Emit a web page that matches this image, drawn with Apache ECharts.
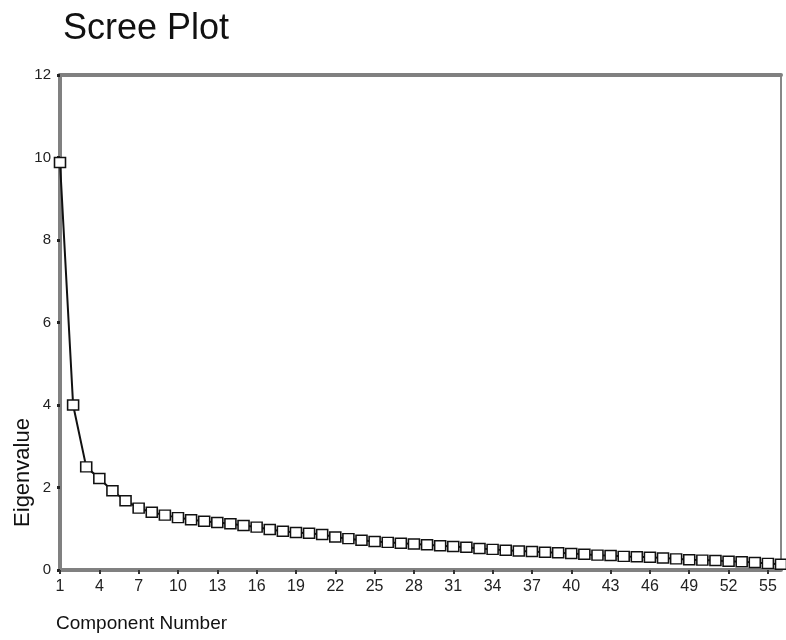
<!DOCTYPE html>
<html>
<head>
<meta charset="utf-8">
<script src="https://cdn.jsdelivr.net/npm/echarts@6/dist/echarts.min.js"></script>
<style>
  html, body { margin: 0; padding: 0; background: #fff; }
  #main { width: 786px; height: 640px; }
</style>
</head>
<body>
<div id="main"></div>
<script>
// 成分编号 1..56
var components = [];
for (var i = 1; i <= 56; i++) components.push(String(i));

// 特征值
var eigenvalues = [
  9.88, 4.00, 2.50, 2.22, 1.92, 1.68, 1.50, 1.40, 1.33, 1.27,
  1.22, 1.18, 1.15, 1.12, 1.08, 1.04, 0.98, 0.94, 0.91, 0.89,
  0.86, 0.80, 0.76, 0.72, 0.69, 0.67, 0.65, 0.63, 0.61, 0.59,
  0.57, 0.55, 0.52, 0.50, 0.48, 0.46, 0.45, 0.43, 0.42, 0.40,
  0.38, 0.36, 0.35, 0.33, 0.32, 0.31, 0.29, 0.27, 0.25, 0.24,
  0.23, 0.21, 0.20, 0.18, 0.16, 0.14
];

var yTicks = [0, 2, 4, 6, 8, 10, 12];

var chart = echarts.init(document.getElementById('main'));
var option = {
  backgroundColor: '#fff',
  animation: false,
  title: {
    text: 'Scree Plot',
    left: 58,
    top: 6,
    textStyle: { fontFamily: 'Liberation Sans', fontSize: 36, fontWeight: 'normal', color: '#111' }
  },
  grid: {
    left: 60, right: 5, top: 75, bottom: 70,
    containLabel: false,
    outerBoundsMode: 'none',
    show: true, borderColor: '#111', borderWidth: 1
  },
  xAxis: [{
    type: 'category',
    data: components,
    boundaryGap: false,
    name: 'Component Number',
    nameLocation: 'start',
    nameGap: 0,
    nameMoveOverlap: false,
    nameTextStyle: {
      fontFamily: 'Liberation Sans', fontSize: 19, color: '#111',
      align: 'left', verticalAlign: 'top', padding: [44, 0, 0, -4]
    },
    axisLine: { lineStyle: { color: '#808080', width: 4 } },
    axisTick: { interval: 2, length: 4, lineStyle: { color: '#333', width: 2 } },
    axisLabel: {
      interval: 2, margin: 9,
      fontFamily: 'Liberation Sans', fontSize: 16, color: '#222'
    },
    splitLine: { show: false }
  }, {
    type: 'category',
    data: components,
    boundaryGap: false,
    position: 'top',
    axisLine: { lineStyle: { color: '#808080', width: 4 } },
    axisTick: { show: false },
    axisLabel: { show: false }
  }],
  yAxis: {
    type: 'value',
    min: yTicks[0],
    max: yTicks[yTicks.length - 1],
    interval: 2,
    name: 'Eigenvalue',
    nameLocation: 'middle',
    nameGap: 26,
    nameMoveOverlap: false,
    nameTextStyle: { fontFamily: 'Liberation Sans', fontSize: 22, color: '#111', padding: [0, 0, 0, -300] },
    axisLine: { show: true, lineStyle: { color: '#808080', width: 4 } },
    axisTick: { show: true, length: 3, lineStyle: { color: '#222', width: 3 } },
    axisLabel: { fontFamily: 'Liberation Sans', fontSize: 15, color: '#222', margin: 9 },
    splitLine: { show: false }
  },
  series: [{
    name: 'Eigenvalue',
    type: 'line',
    data: eigenvalues,
    symbol: 'rect',
    symbolSize: [11, 10],
    showAllSymbol: true,
    lineStyle: { color: '#111', width: 2 },
    itemStyle: { color: '#fff', borderColor: '#111', borderWidth: 1.5 }
  }]
};
chart.setOption(option);
</script>
</body>
</html>
